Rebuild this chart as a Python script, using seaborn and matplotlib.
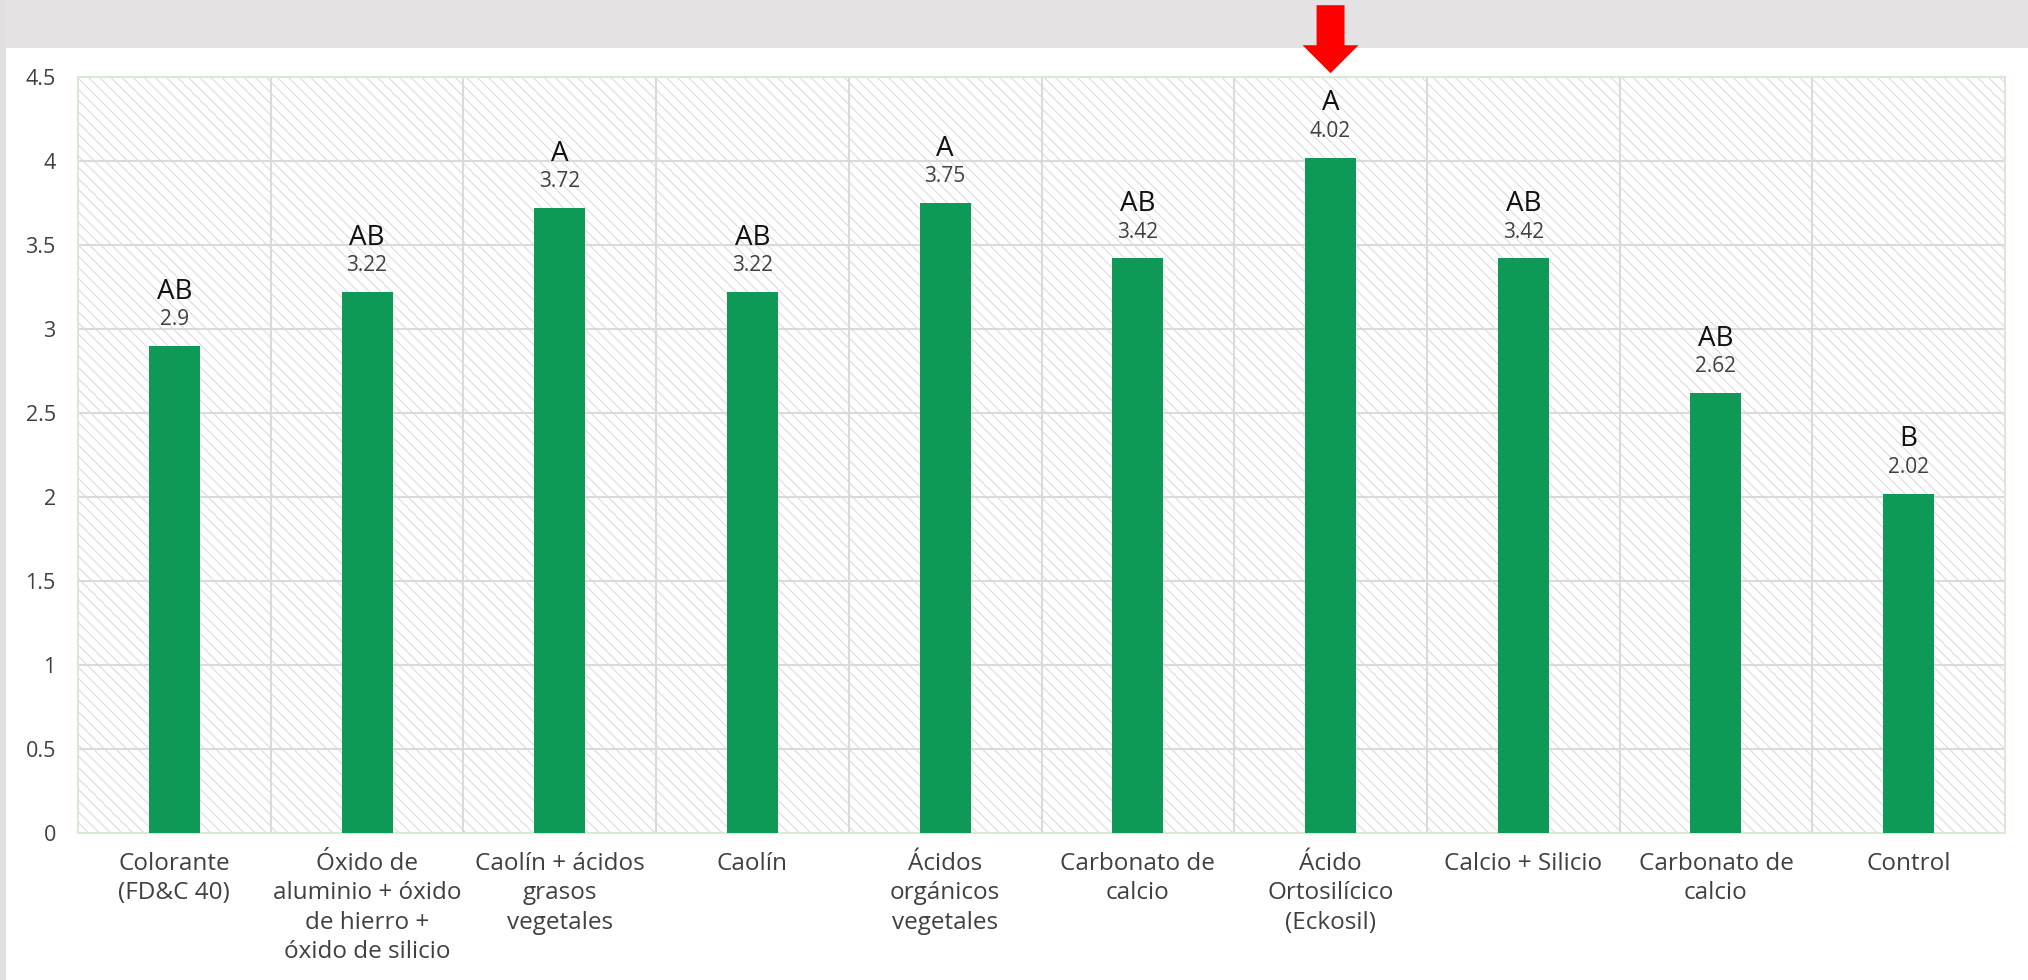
import numpy as np
import pandas as pd
import matplotlib
matplotlib.use("Agg")
import matplotlib.pyplot as plt
import matplotlib.transforms as mtransforms
from matplotlib.patches import Rectangle, FancyArrow
import seaborn as sns

# Treatments, mean values and significance groups
treatments = [
    "Colorante\n(FD&C 40)",
    "Óxido de\naluminio + óxido\nde hierro +\nóxido de silicio",
    "Caolín + ácidos\ngrasos\nvegetales",
    "Caolín",
    "Ácidos\norgánicos\nvegetales",
    "Carbonato de\ncalcio",
    "Ácido\nOrtosilícico\n(Eckosil)",
    "Calcio + Silicio",
    "Carbonato de\ncalcio",
    "Control",
]
values = [2.9, 3.22, 3.72, 3.22, 3.75, 3.42, 4.02, 3.42, 2.62, 2.02]
groups = ["AB", "AB", "A", "AB", "A", "AB", "A", "AB", "AB", "B"]
y_ticks = [0, 0.5, 1, 1.5, 2, 2.5, 3, 3.5, 4, 4.5]
y_tick_labels = ["0", "0.5", "1", "1.5", "2", "2.5", "3", "3.5", "4", "4.5"]
highlight = "Ácido\nOrtosilícico\n(Eckosil)"

BAR = "#0f9956"
GRID = "#dadada"
TEXT = "#404040"

sns.set_theme(style="white")
plt.rcParams["font.family"] = ["Open Sans", "DejaVu Sans"]
plt.rcParams["hatch.linewidth"] = 0.8

df = pd.DataFrame({"pos": range(len(treatments)), "value": values})

fig = plt.figure(figsize=(20.28, 9.8), dpi=100, facecolor="white")

# slide-like frame: grey band on top and a thin grey strip on the left
fig.add_artist(Rectangle((0, 1 - 48 / 980), 1, 48 / 980, transform=fig.transFigure,
                         facecolor="#e4e2e2", edgecolor="none", zorder=-10))
fig.add_artist(Rectangle((0, 0), 6 / 2028, 1, transform=fig.transFigure,
                         facecolor="#e2e0e0", edgecolor="none", zorder=-10))

ax = fig.add_axes([78 / 2028, 147 / 980, 1927 / 2028, 756 / 980])
ax.set_facecolor("white")

# diagonal hatch texture behind the bars
ax.add_patch(Rectangle((0, 0), 1, 1, transform=ax.transAxes, facecolor="white",
                       edgecolor="#dcdcdc", hatch="\\\\\\", linewidth=0, zorder=0))

sns.barplot(data=df, x="pos", y="value", color=BAR, width=0.265,
            saturation=1, ax=ax, zorder=3, edgecolor="none")

n = len(treatments)
ax.set_xlim(-0.5, n - 0.5)
ax.set_ylim(0, 4.5)
ax.set_yticks(y_ticks)
ax.set_yticklabels(y_tick_labels)
ax.set_xticks(range(n))
ax.set_xticklabels(treatments, linespacing=1.28)

# grid: horizontal at each tick, vertical between categories
for yv in y_ticks[1:]:
    ax.axhline(yv, color=GRID, lw=1.5, zorder=1)
for xv in np.arange(0.5, n - 0.5, 1):
    ax.axvline(xv, color=GRID, lw=1.5, zorder=1)

for s in ax.spines.values():
    s.set_color("#dbe8d4")
    s.set_linewidth(1.5)

ax.tick_params(axis="y", length=0, pad=16, labelsize=15.5, labelcolor=TEXT)
ax.tick_params(axis="x", length=0, pad=14, labelsize=17.5, labelcolor=TEXT)
ax.set_xlabel("")
ax.set_ylabel("")

# value labels and significance letters
for i, (v, g) in enumerate(zip(values, groups)):
    ax.annotate(f"{v:g}", (i, v), xytext=(0, 19), textcoords="offset points",
                ha="center", va="center", fontsize=15, color=TEXT, zorder=5)
    ax.annotate(g, (i, v), xytext=(0, 39), textcoords="offset points",
                ha="center", va="center", fontsize=20, color="#111111", zorder=5)

# red arrow pointing at the highlighted treatment
hx = treatments.index(highlight)
blend = mtransforms.blended_transform_factory(ax.transData, ax.transAxes)
arrow = FancyArrow(hx, 1.095, 0, -0.09, width=0.145, head_width=0.29,
                   head_length=0.037, length_includes_head=True,
                   transform=blend, clip_on=False, color="#ff0000",
                   linewidth=0, zorder=10)
ax.add_patch(arrow)

fig.savefig("out.png", dpi=100, facecolor=fig.get_facecolor())
